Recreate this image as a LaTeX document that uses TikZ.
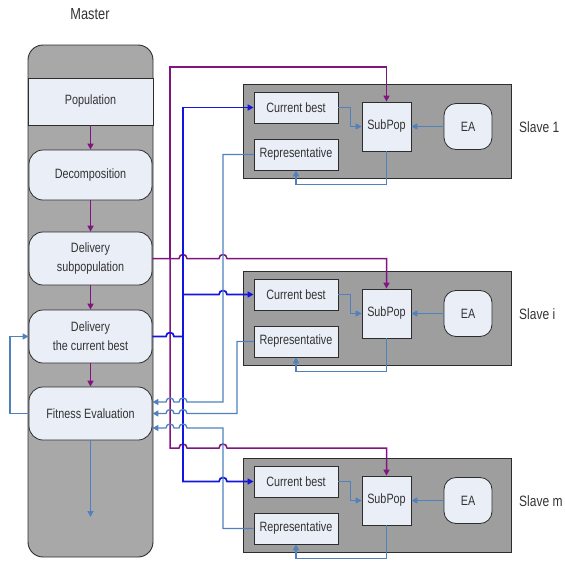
\documentclass[tikz,border=0pt]{standalone}
\usepackage{fontspec}
\setmainfont{Liberation Sans}[FakeStretch=0.8]
\usetikzlibrary{arrows.meta}
\definecolor{mgray}{RGB}{168,168,168}
\definecolor{sgray}{RGB}{158,158,158}
\definecolor{bfill}{RGB}{233,238,247}
\definecolor{bord}{RGB}{45,45,45}
\definecolor{pur}{RGB}{128,20,128}
\definecolor{blu}{RGB}{20,20,225}
\definecolor{stb}{RGB}{79,129,189}
\begin{document}
\begin{tikzpicture}[x=1pt,y=-1pt,
  txt/.style={font=\fontsize{13.5}{19}\selectfont, text=black!80},
  mbox/.style={txt, draw=bord, fill=bfill, rounded corners=14pt, minimum width=123pt, minimum height=53pt, inner sep=0pt, align=center, line width=0.8pt},
  sbox/.style={txt, draw=bord, fill=bfill, minimum width=84pt, minimum height=31pt, inner sep=0pt, line width=0.8pt},
  slavebox/.style={draw=bord, fill=sgray, minimum width=268pt, minimum height=94pt, inner sep=0pt, line width=0.8pt},
  lab/.style={font=\fontsize{15}{18}\selectfont, text=black!80},
  tip/.style={-{Triangle[length=6pt,width=6pt]}},
  purl/.style={draw=pur, line width=1.5pt},
  blul/.style={draw=blu, line width=1.7pt},
  stl/.style={draw=stb, line width=1.3pt}]
\useasboundingbox (0,0) rectangle (565,560);

% Master column
\node[lab, font=\fontsize{16}{18}\selectfont] (mlab) at (90,14) {Master};
\node[draw=bord, fill=mgray, rounded corners=15pt, minimum width=125pt, minimum height=512pt, inner sep=0pt, line width=0.9pt] (master) at (90.5,301) {};
\node[txt, draw=bord, fill=bfill, minimum width=125pt, minimum height=47pt, inner sep=0pt, line width=0.8pt] (pop) at (90.5,101.5) {Population};
\node[mbox, minimum height=50pt] (dec) at (90.5,175) {Decomposition};
\node[mbox] (dsp) at (90.5,258.5) {Delivery\\subpopulation};
\node[mbox] (dcb) at (90.5,336.5) {Delivery\\the current best};
\node[mbox] (fit) at (90.5,413.5) {Fitness Evaluation};

\draw[purl,tip] (pop.south) -- (dec.north);
\draw[purl,tip] (dec.south) -- (dsp.north);
\draw[purl,tip] (dsp.south) -- (dcb.north);
\draw[purl,tip] (dcb.south) -- (fit.north);
\coordinate (mend) at (90.5,517);
\draw[stl,tip] (fit.south) -- (mend);
\draw[stl,tip] (fit.west) -- (10,413.5) |- (dcb.west);

% Slaves
\foreach \k/\T/\lab in {1/84/1, 2/271/i, 3/458/m}{
  \node[slavebox] (s\k) at (377,\T+47) {};
  \node[sbox] (cb\k) at (296,\T+23.5) {Current best};
  \node[sbox] (rep\k) at (296,\T+70.5) {Representative};
  \node[sbox, minimum width=49pt, minimum height=49pt] (sp\k) at (386.5,\T+42.5) {SubPop};
  \node[sbox, minimum width=48pt, minimum height=46pt, rounded corners=12pt] (ea\k) at (468,\T+42.5) {EA};
  \node[lab, anchor=west, inner sep=0pt] (sl\k) at (519,\T+43) {Slave \lab};
  \draw[stl,tip] (cb\k.east) -- ++(12,0) |- (sp\k.west);
  \draw[stl,tip] (ea\k.west) -- (sp\k.east);
  \draw[stl,tip] (sp\k.south) -- ++(0,33) -| (rep\k.south);
}

% Purple: delivery subpopulation
\draw[purl,tip] (dsp.east) -- (179,258.5) .. controls (179,253.2) and (187,253.2) .. (187,258.5)
  -- (219,258.5) .. controls (219,253.2) and (227,253.2) .. (227,258.5) -- (386.5,258.5) -- (sp2.north);
\draw[purl,tip] (170,258.5) -- (170,67) -| (sp1.north);
\draw[purl,tip] (170,258.5) -- (170,448) -- (179,448) .. controls (179,442.7) and (187,442.7) .. (187,448)
  -- (219,448) .. controls (219,442.7) and (227,442.7) .. (227,448) -- (386.5,448) -- (sp3.north);

% Blue: delivery the current best
\draw[blul] (dcb.east) -- (166,336.5) .. controls (166,331.2) and (174,331.2) .. (174,336.5) -- (183,336.5);
\draw[blul,tip] (183,336.5) -- (183,107.5) -- (cb1.west);
\draw[blul,tip] (183,294.5) -- (219,294.5) .. controls (219,289.2) and (227,289.2) .. (227,294.5) -- (cb2.west);
\draw[blul,tip] (183,336.5) -- (183,481.5) -- (219,481.5) .. controls (219,476.2) and (227,476.2) .. (227,481.5) -- (cb3.west);

% Steel blue: representatives back to fitness
\draw[stl,tip] (rep1.west) -- (223,154.5) -- (223,402) -- (187,402) .. controls (187,396.7) and (179,396.7) .. (179,402)
  -- (174,402) .. controls (174,396.7) and (166,396.7) .. (166,402) -- ([yshift=11.5pt]fit.east);
\draw[stl,tip] (rep2.west) -- (237,341.5) -- (237,413.5) -- (187,413.5) .. controls (187,408.2) and (179,408.2) .. (179,413.5)
  -- (174,413.5) .. controls (174,408.2) and (166,408.2) .. (166,413.5) -- (fit.east);
\draw[stl,tip] (rep3.west) -- (223,528.5) -- (223,428) -- (187,428) .. controls (187,422.7) and (179,422.7) .. (179,428)
  -- (174,428) .. controls (174,422.7) and (166,422.7) .. (166,428) -- ([yshift=-14.5pt]fit.east);
\end{tikzpicture}
\end{document}
